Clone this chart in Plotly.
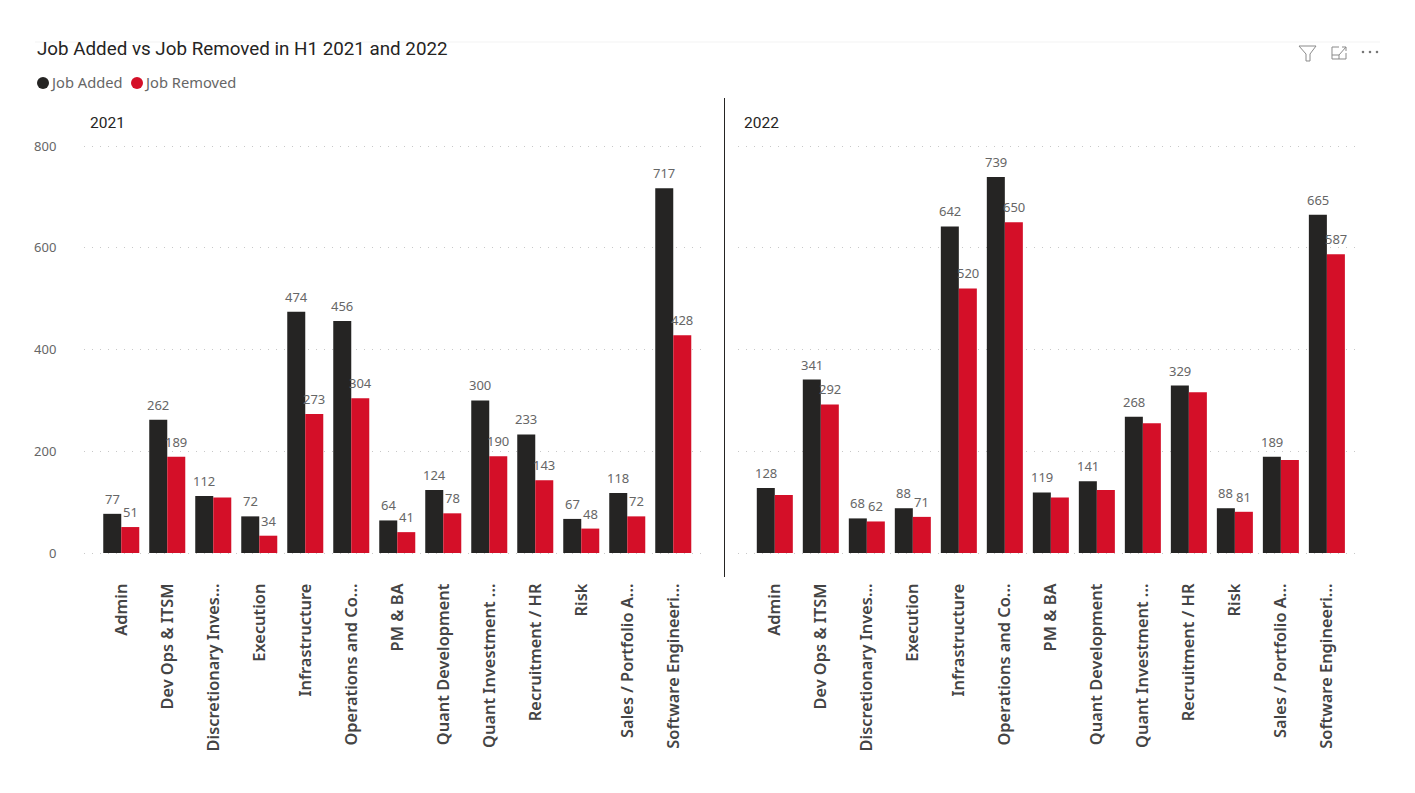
import plotly.graph_objects as go

CATEGORIES = ["Admin", "Dev Ops & ITSM", "Discretionary Inves...", "Execution", "Infrastructure",
              "Operations and Co...", "PM & BA", "Quant Development", "Quant Investment ...",
              "Recruitment / HR", "Risk", "Sales / Portfolio A...", "Software Engineeri..."]
ADDED_2021 = [77, 262, 112, 72, 474, 456, 64, 124, 300, 233, 67, 118, 717]
REMOVED_2021 = [51, 189, 109, 34, 273, 304, 41, 78, 190, 143, 48, 72, 428]
ADDED_2022 = [128, 341, 68, 88, 642, 739, 119, 141, 268, 329, 88, 189, 665]
REMOVED_2022 = [114, 292, 62, 71, 520, 650, 109, 124, 255, 316, 81, 183, 587]
HIDDEN_LABELS_2021 = {2}
HIDDEN_LABELS_2022 = {0, 6, 7, 8, 9, 11}
Y_TICKS = [0, 200, 400, 600, 800]

W, H = 1415, 793
BLACK, RED = "#252423", "#D40F28"
GREY = "#666666"
LABEL_FONT = "Noto Sans"
TITLE_FONT = "Roboto"
PAD = 3.93  # keeps the 0 and 800 gridlines inside the plot area


def px(x):
    return x / W


def py(y):
    return 1 - y / H


fig = go.Figure()
value_notes = []
for axis, added, removed, hidden in (("", ADDED_2021, REMOVED_2021, HIDDEN_LABELS_2021),
                                     ("2", ADDED_2022, REMOVED_2022, HIDDEN_LABELS_2022)):
    for name, vals, color, hide, shift in (("Job Added", added, BLACK, (), -9),
                                           ("Job Removed", removed, RED, hidden, 9)):
        fig.add_bar(x=CATEGORIES, y=vals, name=name, marker=dict(color=color, line_width=0),
                    xaxis="x" + axis, yaxis="y" + axis, showlegend=False)
        for i, (cat, v) in enumerate(zip(CATEGORIES, vals)):
            if i not in hide:
                value_notes.append(dict(text=str(v), x=cat, y=v, xref="x" + axis, yref="y" + axis,
                                        xshift=shift, yshift=4, yanchor="bottom", showarrow=False,
                                        font=dict(family=LABEL_FONT, size=13, color=GREY)))

common_x = dict(type="category", tickangle=-90, ticks="outside", ticklen=21, tickcolor="rgba(0,0,0,0)",
                tickfont=dict(family=LABEL_FONT, size=16.4, color="#444444", weight=600), showgrid=False,
                showline=False, zeroline=False, automargin=False,
                categoryorder="array", categoryarray=CATEGORIES)
common_y = dict(range=[-PAD, 800 + PAD], tickvals=Y_TICKS, showgrid=True, gridcolor="#c8c8c8",
                griddash="1px,7px", gridwidth=1, zeroline=False, showline=False, automargin=False)

shapes = [
    dict(type="line", xref="paper", yref="paper", x0=px(724.5), x1=px(724.5), y0=py(98), y1=py(577),
         line=dict(color="#252423", width=1)),
    dict(type="line", xref="paper", yref="paper", x0=px(35), x1=px(1380), y0=py(42), y1=py(42),
         line=dict(color="#f3f3f3", width=1)),
]
for cx, color in ((43, BLACK), (137, RED)):
    shapes.append(dict(type="circle", xref="paper", yref="paper", x0=px(cx - 6), x1=px(cx + 6),
                       y0=py(89), y1=py(77), fillcolor=color, line_width=0))


def path(points, close=False):
    s = "M " + " L ".join(f"{px(x):.5f},{py(y):.5f}" for x, y in points)
    return s + (" Z" if close else "")


ICON = dict(color="#8a8a8a", width=1)
shapes.append(dict(type="path", xref="paper", yref="paper", line=ICON,
                   path=path([(1299, 46), (1316, 46), (1310, 54), (1310, 61), (1306, 61), (1306, 54)], True)))
shapes.append(dict(type="path", xref="paper", yref="paper", line=ICON,
                   path=path([(1339, 47), (1332, 47), (1332, 59), (1346, 59), (1346, 53)])))
shapes.append(dict(type="path", xref="paper", yref="paper", line=ICON,
                   path=path([(1332, 55), (1339, 55), (1339, 59)])))
shapes.append(dict(type="path", xref="paper", yref="paper", line=ICON,
                   path=path([(1339, 55), (1346, 47)])))
shapes.append(dict(type="path", xref="paper", yref="paper", line=ICON,
                   path=path([(1342, 47), (1346, 47), (1346, 51)])))
for cx in (1363, 1370, 1377):
    shapes.append(dict(type="circle", xref="paper", yref="paper", x0=px(cx - 1.3), x1=px(cx + 1.3),
                       y0=py(53.3), y1=py(50.7), fillcolor="#777777", line_width=0))


def note(text, x, y, size, color, family):
    return dict(text=text, xref="paper", yref="paper", x=px(x), y=py(y), xanchor="left", yanchor="middle",
                showarrow=False, font=dict(family=family, size=size, color=color))


fig.update_layout(
    width=W, height=H, autosize=False, margin=dict(l=0, r=0, t=0, b=0),
    paper_bgcolor="white", plot_bgcolor="white", barmode="group", bargap=0.217, bargroupgap=0,
    xaxis=dict(common_x, domain=[px(84), px(705)], anchor="y", range=[-0.81, 12.69]),
    yaxis=dict(common_y, domain=[py(555), py(144)], anchor="x", ticks="outside", ticklen=24,
               tickcolor="rgba(0,0,0,0)", tickfont=dict(family=LABEL_FONT, size=13, color=GREY)),
    xaxis2=dict(common_x, domain=[px(738), px(1360)], anchor="y2", range=[-0.8, 12.72]),
    yaxis2=dict(common_y, domain=[py(555), py(144)], anchor="x2", showticklabels=False),
    shapes=shapes,
    annotations=[
        note("Job Added vs Job Removed in H1 2021 and 2022", 35, 49.5, 18.8, BLACK, TITLE_FONT),
        note("Job Added", 47.5, 82, 14.7, GREY, LABEL_FONT),
        note("Job Removed", 141.5, 82, 14.7, GREY, LABEL_FONT),
        note("2021", 88, 122.5, 15.5, BLACK, TITLE_FONT),
        note("2022", 742, 122.5, 15.5, BLACK, TITLE_FONT),
    ] + value_notes,
)
fig.write_html("out.html", config=dict(displayModeBar=False),
               post_script="document.body.style.margin='0';document.body.style.overflow='hidden';")
